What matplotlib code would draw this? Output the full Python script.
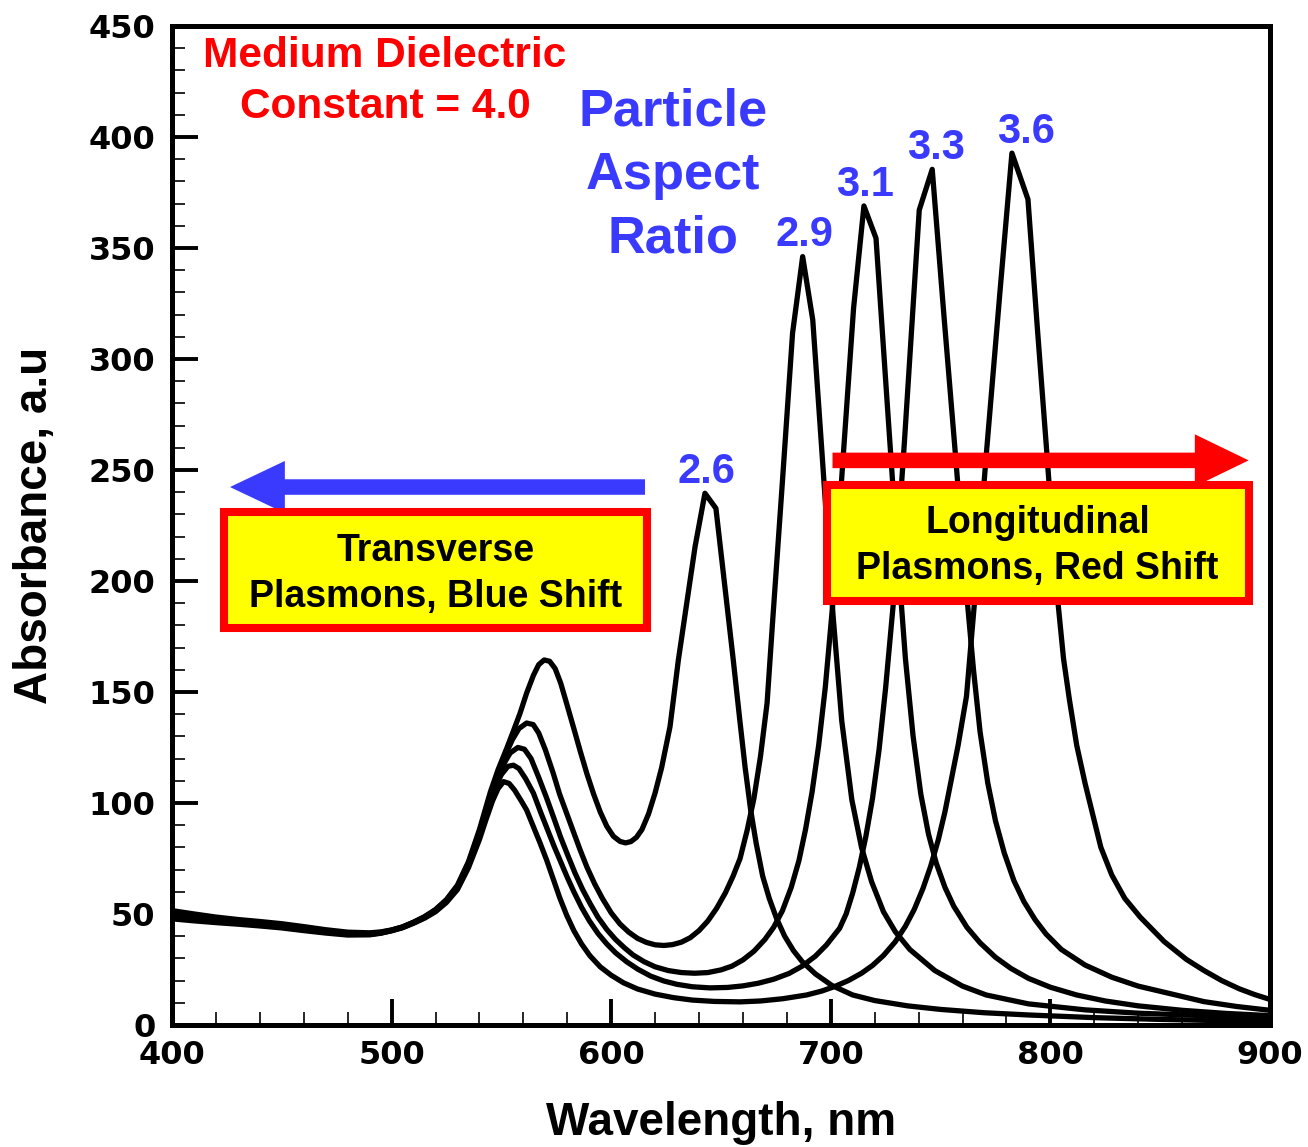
import matplotlib
matplotlib.use("Agg")
import matplotlib.pyplot as plt
from matplotlib.patches import Rectangle, FancyArrow
from matplotlib.ticker import MultipleLocator

# Absorbance spectra (wavelength in nm, absorbance in a.u.) for each particle aspect ratio
wl_26 = [400, 410, 420, 430, 440, 450, 460, 470, 480, 490, 495, 500, 505, 510, 515, 520, 525,
         530, 535, 540, 545, 548.5, 552.4, 555.5, 558.5, 561.5, 564.6, 567, 569.5, 572, 574.5,
         577, 579.8, 583, 586, 589, 592, 595, 598, 601, 604, 606.5, 609, 611.5, 614, 617, 620,
         623, 626.8, 630.6, 638.2, 642.7, 647.7, 655.6, 658.5, 661, 663.5, 666, 669, 672,
         675.3, 679, 683, 687, 693, 700.5, 710, 720, 735, 750, 770, 790, 820, 850, 875, 900]
ab_26 = [51.5, 50, 48.6, 47.5, 46.6, 45.6, 44.3, 42.9, 41.8, 41.5, 41.9, 42.8, 44.2, 46.3, 48.8,
         52, 56.5, 63, 73.5, 88, 105, 115, 124.5, 132.5, 140.4, 149.5, 157.5, 162.3, 164.4,
         163.8, 160.5, 154, 144.5, 133.5, 123, 113, 104, 96, 89.5, 85, 82.7, 82, 82.6, 84.5,
         88, 95, 104.5, 116, 134.4, 164.4, 215.4, 239.5, 232.7, 164.4, 138, 116, 97, 82,
         67, 57, 48, 40, 33.5, 28.5, 23, 17.8, 13.5, 11, 8.6, 7, 5.5, 4.5, 3.3, 2.5, 2, 1.6]

wl_29 = [400, 410, 420, 430, 440, 450, 460, 470, 480, 490, 495, 500, 505, 510, 515, 520, 525,
         530, 535, 540, 545, 548.5, 552, 555, 558, 561.5, 564.5, 567, 570, 573.6, 576.5, 579.7,
         583, 585.8, 589, 592.5, 596, 600, 604, 608, 612, 616, 620, 624, 628, 632, 636, 640,
         644, 648, 652, 655.5, 658.7, 662, 665, 668, 671, 673.4, 678, 682.6, 687.2, 691.8,
         696.4, 701, 705, 709.6, 714, 718.6, 724, 729.4, 736, 747.4, 760, 770.8, 790, 815.8,
         840, 870, 900]
ab_29 = [50.5, 49.2, 48.0, 47.0, 46.1, 45.1, 43.8, 42.5, 41.4, 41.2, 41.7, 42.7, 44.1, 46.2, 48.6,
         51.8, 56.2, 62.5, 73, 87, 103.5, 113.5, 122, 128.5, 133.5, 136, 135.3, 131.5, 124,
         113.4, 104, 95.4, 86.5, 79, 71, 63.5, 57, 50.5, 45.5, 41.8, 39, 37.2, 36.1, 35.8,
         36.2, 37.3, 39.3, 42.5, 46.8, 52.5, 59.5, 67, 75, 88, 102, 121, 145, 180, 245, 311.6,
         346.1, 317.6, 252, 185, 137, 101.4, 80, 64.5, 51, 42, 34, 24.5, 17.5, 13.5, 9.5,
         6.8, 5.3, 4.2, 3.3]

wl_31 = [400, 410, 420, 430, 440, 450, 460, 470, 480, 490, 495, 500, 505, 510, 515, 520, 525,
         530, 535, 540, 545, 548, 551, 554, 557.5, 560.5, 563.5, 567, 570.5, 573.6, 577, 580,
         583.5, 587, 590.5, 594, 598, 602, 606, 610, 615, 620, 626, 632, 638, 644, 650, 655,
         660, 665, 670, 674, 678, 682, 685.5, 688.5, 691.5, 694.5, 697.5, 701.4, 705.8, 710.4,
         715.1, 720.6, 725.5, 730, 734, 737.5, 741, 744.5, 748, 752, 756, 762, 768, 775, 782,
         790, 800, 812, 825, 840, 860, 880, 900]
ab_31 = [49.5, 48.4, 47.3, 46.4, 45.6, 44.6, 43.3, 42.1, 41.1, 41.0, 41.5, 42.6, 44, 46.1, 48.5,
         51.6, 56, 62.2, 72.5, 86, 102, 110.5, 117.5, 122.5, 125, 124.2, 120, 111.5, 102.5,
         94, 84.5, 77, 68.5, 61, 54.5, 48.5, 43, 38.5, 34.8, 31.5, 28.5, 26.2, 24.5, 23.6,
         23.3, 23.6, 24.8, 26.5, 29.3, 33.2, 38.5, 44, 51.5, 62, 74, 88, 105, 126, 152, 195,
         258, 323, 368.9, 354.4, 283, 218, 165, 130, 104, 86, 73, 62, 53.5, 44, 37, 30.5,
         25.5, 21, 17, 13.5, 10.8, 8.6, 6.6, 5.2, 4.2]

wl_33 = [400, 410, 420, 430, 440, 450, 460, 470, 480, 490, 495, 500, 505, 510, 515, 520, 525,
         530, 535, 540, 544, 547, 550, 553, 555.5, 558, 561, 564.6, 568, 571, 574, 577, 580,
         583, 586.5, 590, 594, 598, 602, 607, 612, 618, 624, 630, 637, 645, 653, 660, 667, 674,
         681, 687, 693, 698, 702, 704, 707, 710, 713, 716, 719, 722, 725, 728.5, 733.5, 740.3,
         746.2, 751.5, 756.6, 761.8, 765, 768, 771.5, 775, 779, 783.4, 788, 793, 798, 805,
         815.8, 828, 840, 855, 870, 885, 900]
ab_33 = [48.7, 47.7, 46.7, 45.9, 45.1, 44.1, 42.9, 41.8, 40.8, 40.8, 41.4, 42.5, 43.9, 46, 48.3,
         51.3, 55.6, 61.8, 72, 85.5, 98, 106.5, 112.8, 116.5, 117, 115.5, 111, 104.4, 95.5,
         88, 80.5, 73.5, 66.5, 60, 53, 47, 41.2, 36.5, 32.5, 28.5, 25.2, 22, 19.8, 18.3, 17.2,
         16.7, 16.9, 17.6, 18.8, 20.6, 23.2, 26.5, 31, 36, 41, 43.5, 50, 59.5, 71, 85, 102,
         124, 152, 190, 262, 367.1, 385.4, 320, 259, 195, 160, 132, 109, 92, 77.5, 65, 55.5,
         47.5, 41, 34, 27, 21.5, 17.5, 14, 10.5, 8.3, 6.6]

wl_36 = [400, 410, 420, 430, 440, 450, 460, 470, 480, 490, 495, 500, 505, 510, 515, 520, 525,
         530, 535, 540, 543, 546, 548.5, 551, 553.5, 556, 559, 561.5, 564.5, 567.6, 570.6,
         573.6, 576.5, 579.7, 583, 586.5, 590.3, 595, 600, 605.6, 612, 620, 628.4, 637, 647,
         658.7, 668, 678, 689, 696, 702, 708, 714, 719, 724, 729.4, 734, 738, 742, 745.5, 749,
         752, 755, 758, 761.8, 765.6, 771, 777, 782.5, 789.8, 794, 798.3, 803, 806, 808.7,
         812, 815.8, 819, 823, 828, 833.9, 841, 851.9, 862, 870, 878, 886, 893, 900]
ab_36 = [47.8, 46.9, 46.1, 45.4, 44.6, 43.7, 42.5, 41.4, 40.5, 40.6, 41.3, 42.4, 43.8, 45.8, 48.1,
         51, 55.2, 61, 70.8, 83.5, 92.5, 101, 106.5, 109.6, 108.8, 105.8, 101, 96.8, 89.5, 82,
         74.3, 65.8, 57.5, 49.5, 42.5, 36.5, 31.2, 26.2, 22.4, 19, 16.2, 13.9, 12.3, 11.2,
         10.6, 10.4, 10.8, 11.8, 13.5, 15.3, 17.4, 20, 23.3, 26.8, 31.3, 37.5, 44.5, 52,
         61.5, 71.5, 83.5, 96, 111, 126, 148, 192, 259, 329.6, 392.7, 371.9, 315, 259, 195,
         165, 146.4, 126, 108.9, 96, 80, 67.5, 57, 48.5, 37.5, 29.5, 24.5, 20, 16.3, 13.7, 11.5]

aspect_labels = ["2.6", "2.9", "3.1", "3.3", "3.6"]
spectra = [(wl_26, ab_26), (wl_29, ab_29), (wl_31, ab_31), (wl_33, ab_33), (wl_36, ab_36)]

BLUE = "#3a3aff"
RED = "#ff0000"
YELLOW = "#ffff00"

plt.rcParams["font.family"] = "DejaVu Sans"
plt.rcParams["font.weight"] = "bold"

fig = plt.figure(figsize=(13.08, 11.47), dpi=100)
ax = fig.add_axes([0.1315, 0.1064, 0.8394, 0.8710])

for wl, ab in spectra:
    ax.plot(wl, ab, color="black", lw=3.8, zorder=2)

# peak labels just above each longitudinal maximum
label_dx = [1, 1, 1, 3, 10]
for (wl, ab), txt, dx in zip(spectra, aspect_labels, label_dx):
    i = max(range(len(ab)), key=lambda k: ab[k])
    ax.annotate(txt, (wl[i], ab[i]), xytext=(dx, 1), textcoords="offset points",
                ha="center", va="bottom", color=BLUE, fontsize=30,
                fontfamily="Liberation Sans", fontweight="bold", zorder=5)

ax.set_xlim(400, 900)
ax.set_ylim(0, 450)
ax.xaxis.set_major_locator(MultipleLocator(100))
ax.xaxis.set_minor_locator(MultipleLocator(20))
ax.yaxis.set_major_locator(MultipleLocator(50))
ax.yaxis.set_minor_locator(MultipleLocator(10))
ax.tick_params(which="major", direction="in", length=19, width=2.8, labelsize=23,
               top=False, right=False)
ax.tick_params(which="minor", direction="in", length=9.5, width=1.2, top=False, right=False)
ax.tick_params(axis="x", pad=10.5)
ax.tick_params(axis="y", pad=12)
for sp in ax.spines.values():
    sp.set_linewidth(3.6)

ax.set_xlabel("Wavelength, nm", fontsize=33, fontfamily="Liberation Sans", fontweight="bold")
ax.set_ylabel("Absorbance, a.u", fontsize=33, fontfamily="Liberation Sans", fontweight="bold")
ax.xaxis.set_label_coords(0.5, -0.076)
ax.yaxis.set_label_coords(-0.105, 0.5)

# annotations
ax.text(497, 425.0, "Medium Dielectric\nConstant = 4.0", color=RED, fontsize=30.5,
        fontfamily="Liberation Sans", fontweight="bold", ha="center", va="center",
        linespacing=1.33, zorder=5)
ax.text(628.1, 382.6, "Particle\nAspect\nRatio", color=BLUE, fontsize=37.7,
        fontfamily="Liberation Sans", fontweight="bold", ha="center", va="center",
        linespacing=1.37, zorder=5)

ax.add_patch(FancyArrow(615.4, 242.3, -164, 0, width=7.0, head_width=23.5, head_length=25,
                        length_includes_head=False, color=BLUE, lw=0, zorder=4))
ax.add_patch(FancyArrow(700.8, 254.3, 165, 0, width=7.0, head_width=23.5, head_length=24.5,
                        length_includes_head=False, color=RED, lw=0, zorder=4))

ax.add_patch(Rectangle((423.7, 178.8), 616.1 - 423.7, 230.9 - 178.8, facecolor=YELLOW,
                       edgecolor=RED, lw=5.8, zorder=4))
ax.add_patch(Rectangle((698.1, 191.0), 890.4 - 698.1, 243.0 - 191.0, facecolor=YELLOW,
                       edgecolor=RED, lw=5.8, zorder=4))
ax.text(519.9, 203.3, "Transverse\nPlasmons, Blue Shift", fontsize=27,
        fontfamily="Liberation Sans", fontweight="bold", ha="center", va="center",
        linespacing=1.36, zorder=5)
ax.text(794.2, 215.9, "Longitudinal\nPlasmons, Red Shift", fontsize=27,
        fontfamily="Liberation Sans", fontweight="bold", ha="center", va="center",
        linespacing=1.36, zorder=5)

fig.savefig("out.png", dpi=100)
